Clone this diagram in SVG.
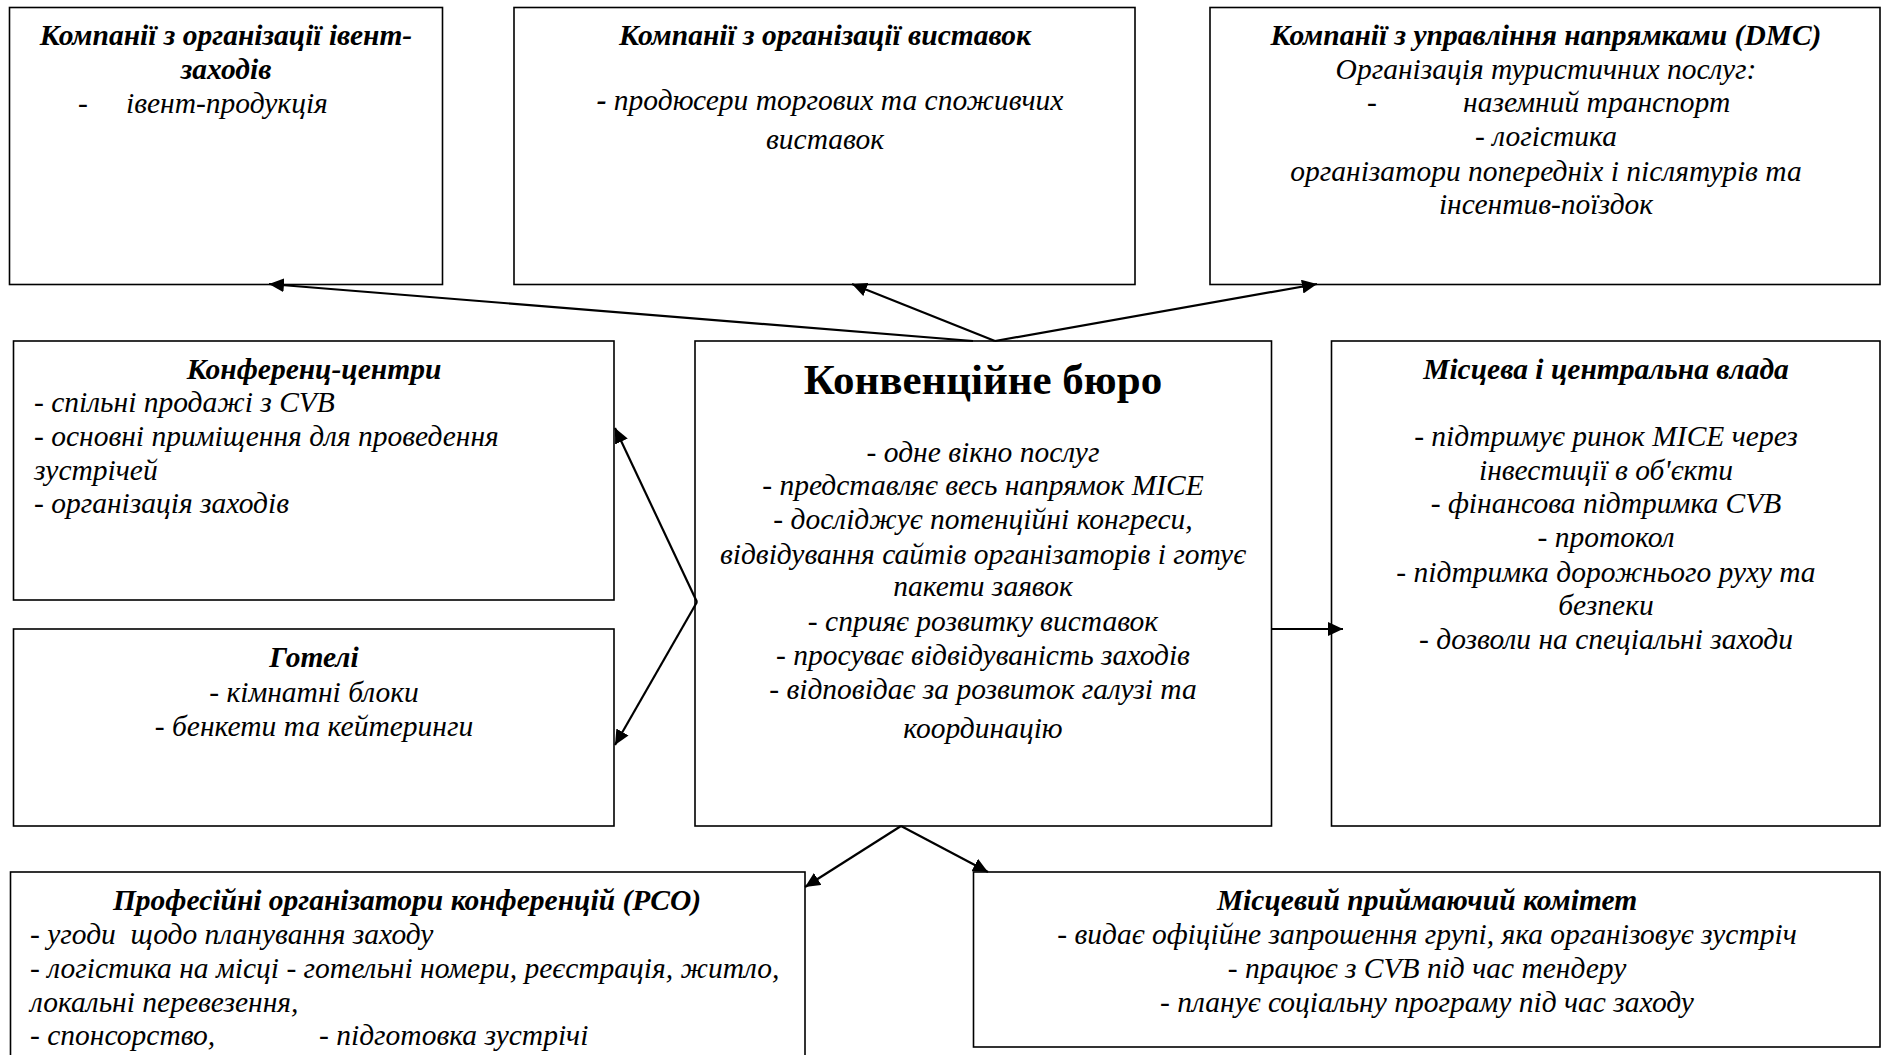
<svg xmlns="http://www.w3.org/2000/svg" width="1883" height="1055" viewBox="0 0 1883 1055">
<style>
.box{fill:#fff;stroke:#000;stroke-width:1.6}
text{font-family:"Liberation Serif","Times New Roman",serif;font-style:italic;font-size:29.5px;fill:#000}
.h{font-weight:bold}
.c{text-anchor:middle}
.big{font-style:normal;font-weight:bold;font-size:43px}
.pre{white-space:pre}
.ln{stroke:#000;stroke-width:2.2;fill:none;marker-end:url(#ah)}
</style>
<defs>
<marker id="ah" markerUnits="userSpaceOnUse" markerWidth="16" markerHeight="14" refX="15" refY="7" orient="auto">
<path d="M0,0 L15,7 L0,14 z" fill="#000"/>
</marker>
</defs>
<rect width="1883" height="1055" fill="#fff"/>

<g id="event">
<rect class="box" x="9.5" y="7.5" width="433" height="277"/>
<text class="h c" x="226" y="45">Компанії з організації івент-</text>
<text class="h c" x="226" y="79">заходів</text>
<text x="78" y="113">-</text>
<text x="126" y="113">івент-продукція</text>
</g>

<g id="exhib">
<rect class="box" x="514" y="7.5" width="621" height="277"/>
<text class="h c" x="825" y="45">Компанії з організації виставок</text>
<text class="c" x="830" y="110"><tspan font-weight="bold">-</tspan> продюсери торгових та споживчих</text>
<text class="c" x="825" y="149">виставок</text>
</g>

<g id="dmc">
<rect class="box" x="1210" y="7.5" width="670" height="277"/>
<text class="h c" x="1546" y="45">Компанії з управління напрямками (DMC)</text>
<text class="c" x="1546" y="79">Організація туристичних послуг:</text>
<text x="1367" y="112">-</text>
<text x="1463" y="112">наземний транспорт</text>
<text class="c" x="1546" y="146">- логістика</text>
<text class="c" x="1546" y="181">організатори попередніх і післятурів та</text>
<text class="c" x="1546" y="214">інсентив-поїздок</text>
</g>

<g id="conf">
<rect class="box" x="13.5" y="341" width="600.5" height="259"/>
<text class="h c" x="314" y="379">Конференц-центри</text>
<text x="34" y="412">- спільні продажі з CVB</text>
<text x="34" y="446">- основні приміщення для проведення</text>
<text x="34" y="480">зустрічей</text>
<text x="34" y="513">- організація заходів</text>
</g>

<g id="hotels">
<rect class="box" x="13.5" y="629" width="600.5" height="197"/>
<text class="h c" x="314" y="667">Готелі</text>
<text class="c" x="314" y="702">- кімнатні блоки</text>
<text class="c" x="314" y="736">- бенкети та кейтеринги</text>
</g>

<g id="cvb">
<rect class="box" x="695" y="341" width="576.5" height="485"/>
<text class="big c" x="983" y="394">Конвенційне бюро</text>
<text class="c" x="983" y="462">- одне вікно послуг</text>
<text class="c" x="983" y="495">- представляє весь напрямок MICE</text>
<text class="c" x="983" y="529">- досліджує потенційні конгреси,</text>
<text class="c" x="983" y="564">відвідування сайтів організаторів і готує</text>
<text class="c" x="983" y="596">пакети заявок</text>
<text class="c" x="983" y="631">- сприяє розвитку виставок</text>
<text class="c" x="983" y="665">- просуває відвідуваність заходів</text>
<text class="c" x="983" y="699">- відповідає за розвиток галузі та</text>
<text class="c" x="983" y="738">координацію</text>
</g>

<g id="gov">
<rect class="box" x="1331.5" y="341" width="548.5" height="485"/>
<text class="h c" x="1606" y="379">Місцева і центральна влада</text>
<text class="c" x="1606" y="446">- підтримує ринок MICE через</text>
<text class="c" x="1606" y="480">інвестиції в об'єкти</text>
<text class="c" x="1606" y="513">- фінансова підтримка CVB</text>
<text class="c" x="1606" y="547">- протокол</text>
<text class="c" x="1606" y="582">- підтримка дорожнього руху та</text>
<text class="c" x="1606" y="615">безпеки</text>
<text class="c" x="1606" y="649">- дозволи на спеціальні заходи</text>
</g>

<g id="pco">
<rect class="box" x="10.5" y="872" width="794.5" height="200"/>
<text class="h c" x="407" y="910">Професійні організатори конференцій (PCO)</text>
<text class="pre" x="30" y="944">- угоди  щодо планування заходу</text>
<text x="30" y="978">- логістика на місці - готельні номери, реєстрація, житло,</text>
<text x="30" y="1012">локальні перевезення,</text>
<text x="30" y="1045">- спонсорство,</text>
<text x="319" y="1045">- підготовка зустрічі</text>
</g>

<g id="committee">
<rect class="box" x="973.5" y="872" width="906.5" height="175"/>
<text class="h c" x="1427" y="910">Місцевий приймаючий комітет</text>
<text class="c" x="1427" y="944">- видає офіційне запрошення групі, яка організовує зустріч</text>
<text class="c" x="1427" y="978">- працює з CVB під час тендеру</text>
<text class="c" x="1427" y="1012">- планує соціальну програму під час заходу</text>
</g>

<g id="connectors">
<line class="ln" x1="973" y1="341" x2="269" y2="284"/>
<line class="ln" x1="995" y1="341" x2="852" y2="284"/>
<line class="ln" x1="995" y1="341" x2="1317" y2="284"/>
<line class="ln" x1="697" y1="602" x2="615" y2="428"/>
<line class="ln" x1="697" y1="602" x2="615" y2="745"/>
<line class="ln" x1="1272" y1="629" x2="1343" y2="629"/>
<line class="ln" x1="901" y1="826" x2="805" y2="887"/>
<line class="ln" x1="901" y1="826" x2="988" y2="872"/>
</g>
</svg>
